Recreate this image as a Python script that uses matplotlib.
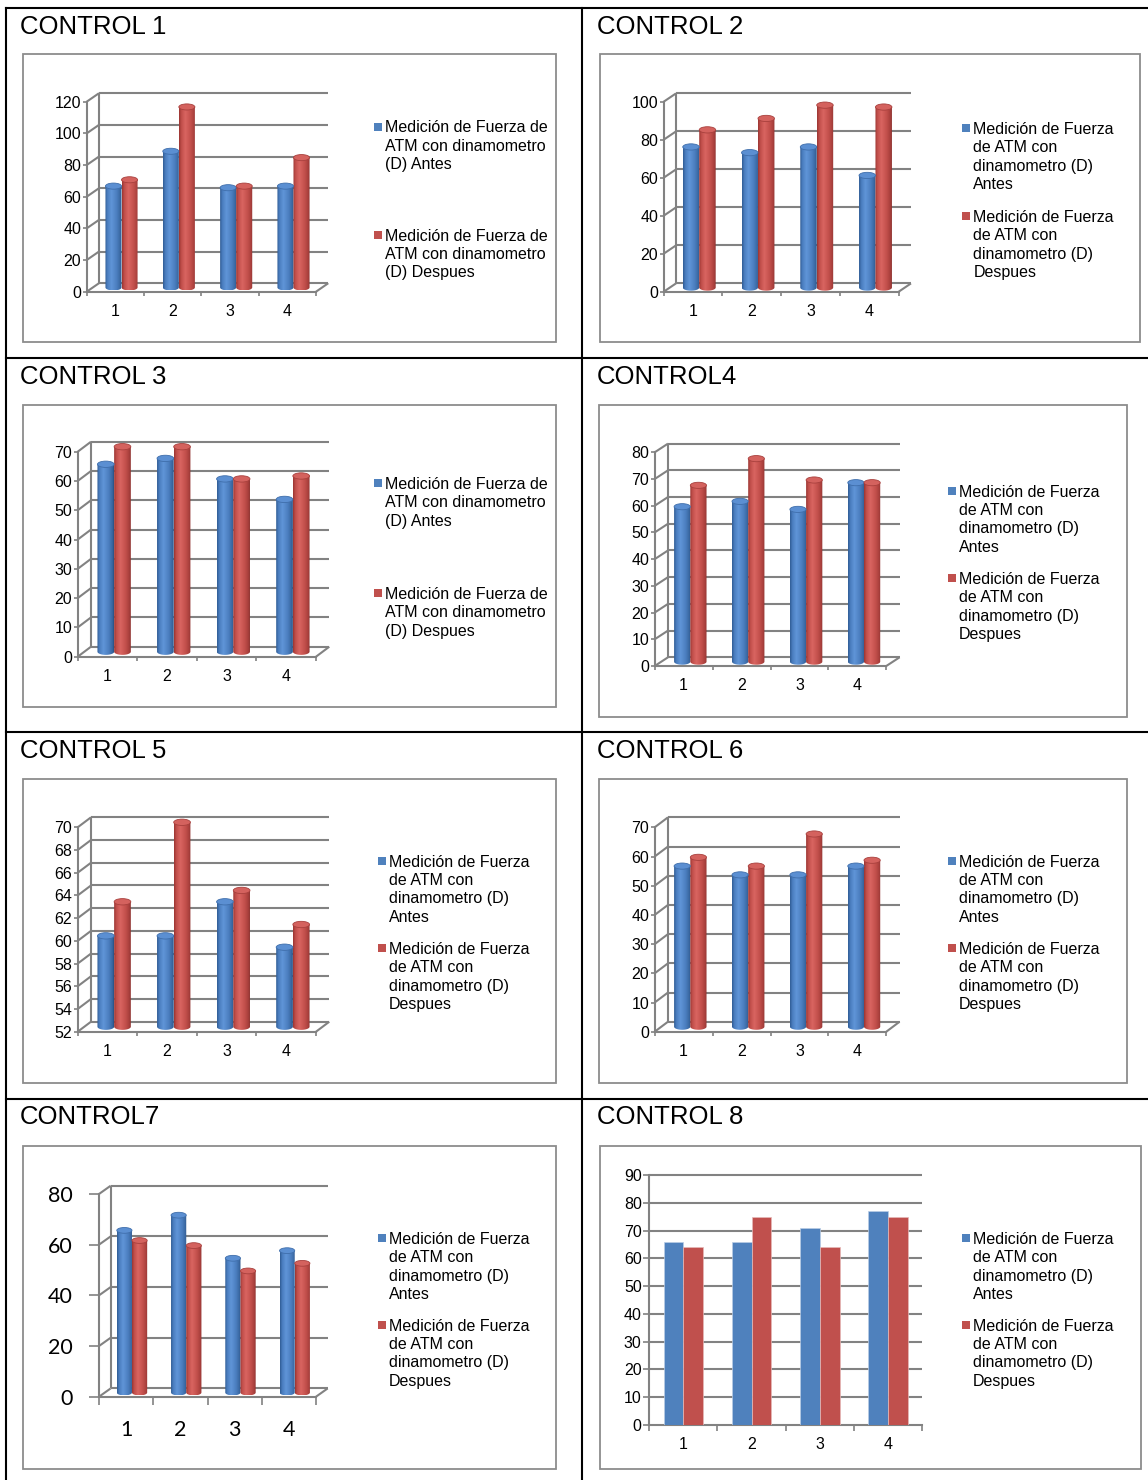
import textwrap
import numpy as np
import matplotlib
matplotlib.use("Agg")
import matplotlib.pyplot as plt
from matplotlib.colors import to_rgb
from matplotlib.lines import Line2D
from matplotlib.patches import Rectangle, Ellipse, PathPatch
from matplotlib.path import Path

# ---------------------------------------------------------------- data
categories = ["1", "2", "3", "4"]
serie_antes = "Medición de Fuerza de ATM con dinamometro (D) Antes"
serie_despues = "Medición de Fuerza de ATM con dinamometro (D) Despues"

c1_antes = [64, 86, 63, 64]
c1_despues = [68, 114, 64, 82]
c2_antes = [74, 71, 74, 59]
c2_despues = [83, 89, 96, 95]
c3_antes = [64, 66, 59, 52]
c3_despues = [70, 70, 59, 60]
c4_antes = [58, 60, 57, 67]
c4_despues = [66, 76, 68, 67]
c5_antes = [60, 60, 63, 59]
c5_despues = [63, 70, 64, 61]
c6_antes = [55, 52, 52, 55]
c6_despues = [58, 55, 66, 57]
c7_antes = [64, 70, 53, 56]
c7_despues = [60, 58, 48, 51]
c8_antes = [66, 66, 71, 77]
c8_despues = [64, 75, 64, 75]

c1_ticks = [0, 20, 40, 60, 80, 100, 120]
c2_ticks = [0, 20, 40, 60, 80, 100]
c3_ticks = [0, 10, 20, 30, 40, 50, 60, 70]
c4_ticks = [0, 10, 20, 30, 40, 50, 60, 70, 80]
c5_ticks = [52, 54, 56, 58, 60, 62, 64, 66, 68, 70]
c6_ticks = [0, 10, 20, 30, 40, 50, 60, 70]
c7_ticks = [0, 20, 40, 60, 80]
c8_ticks = [0, 10, 20, 30, 40, 50, 60, 70, 80, 90]

# ---------------------------------------------------------------- styling
W, H, DPI = 1148, 1480, 100
plt.rcParams["font.family"] = ["Liberation Sans", "DejaVu Sans"]

GRID = "#828282"
GRID_LW = 1.5
BLUE = "#4F81BD"
RED = "#C0504D"
BLUE_STOPS = [(0.0, "#2f5c94"), (0.14, "#4a7dbf"), (0.38, "#6095d8"),
              (0.70, "#4b7ebf"), (0.92, "#38669f"), (1.0, "#2a4f80")]
RED_STOPS = [(0.0, "#9a3532"), (0.14, "#c14f4b"), (0.38, "#d96561"),
             (0.70, "#c24f4b"), (0.92, "#a53e3b"), (1.0, "#8a2e2b")]
BLUE_TOP = ("#5b8fd2", "#3f6eab")
RED_TOP = ("#d4625e", "#a8403d")

fig = plt.figure(figsize=(W / DPI, H / DPI), dpi=DPI)
fig.patch.set_facecolor("white")


def fx(x):
    return x / W


def fy(y):
    return 1 - y / H


def fig_line(xs, ys, color="black", lw=1.5):
    fig.add_artist(Line2D([fx(v) for v in xs], [fy(v) for v in ys],
                          color=color, lw=lw, transform=fig.transFigure))


def gradient(stops, n=80):
    f = np.linspace(0, 1, n)
    pos = [s[0] for s in stops]
    cols = np.array([to_rgb(s[1]) for s in stops])
    rgb = np.stack([np.interp(f, pos, cols[:, k]) for k in range(3)], axis=-1)
    return rgb[np.newaxis, :, :]


def cylinder(ax, xc, w, base, top, eh, stops, top_colors):
    a, b = w / 2, eh / 2
    t = np.linspace(np.pi, 2 * np.pi, 40)
    arc = np.column_stack([xc + a * np.cos(t), base + b * np.sin(t)])
    verts = np.vstack([[xc - a, top], arc, [xc + a, top], [xc - a, top]])
    codes = [Path.MOVETO] + [Path.LINETO] * (len(verts) - 2) + [Path.CLOSEPOLY]
    shape = PathPatch(Path(verts, codes), transform=ax.transData)
    im = ax.imshow(gradient(stops), extent=(xc - a, xc + a, base - b, top),
                   aspect="auto", interpolation="bilinear", zorder=3)
    im.set_clip_path(shape)
    im.set_clip_box(fig.bbox)
    ax.add_patch(Ellipse((xc, top), w, eh, facecolor=top_colors[0],
                         edgecolor=top_colors[1], lw=0.6, zorder=4,
                         clip_on=False))


def legend(tx, y_blue, y_red, wrap, step=18.4, size=11.5):
    for yc, name, col in ((y_blue, serie_antes, BLUE), (y_red, serie_despues, RED)):
        fig.add_artist(Rectangle((fx(tx - 11), fy(yc + 4)), 8 / W, 8 / H,
                                 facecolor=col, edgecolor="none",
                                 transform=fig.transFigure))
        for i, line in enumerate(textwrap.wrap(name, wrap)):
            fig.text(fx(tx), fy(yc + i * step + 5.7), line, fontsize=size,
                     va="baseline", ha="left", color="black")


def chart_box(box):
    x0, y0, x1, y1 = box
    fig.add_artist(Rectangle((fx(x0), fy(y1)), (x1 - x0) / W, (y1 - y0) / H,
                             fill=False, edgecolor="#8c8c8c", lw=1.3,
                             transform=fig.transFigure))


def base_axes(front, ticks):
    x0, x1, y0, y1 = front
    ax = fig.add_axes([fx(x0), fy(y0), (x1 - x0) / W, (y0 - y1) / H])
    ax.set_xlim(0.5, 4.5)
    ax.set_ylim(ticks[0], ticks[-1])
    ax.set_autoscale_on(False)
    ax.patch.set_visible(False)
    for s in ("top", "right"):
        ax.spines[s].set_visible(False)
    for s in ("left", "bottom"):
        ax.spines[s].set_color(GRID)
        ax.spines[s].set_linewidth(GRID_LW)
    ax.set_yticks(ticks)
    ax.set_xticks([0.5, 1.5, 2.5, 3.5, 4.5])
    ax.set_xticklabels([])
    ax.set_xticks([1, 2, 3, 4], minor=True)
    ax.set_xticklabels(categories, minor=True)
    return ax


def panel3d(p):
    ticks = p["ticks"]
    x0, x1, y0, y1 = p["front"]
    ax = base_axes(p["front"], ticks)
    ymin, ymax = ticks[0], ticks[-1]
    px_x = (x1 - x0) / 4
    px_y = (y0 - y1) / (ymax - ymin)
    ox = p["back"][0] / px_x
    oy = p["back"][1] / px_y
    kw = dict(color=GRID, lw=GRID_LW, clip_on=False, zorder=1,
              solid_capstyle="butt")
    # back wall gridlines
    ax.hlines(np.array(ticks) + oy, 0.5 + ox, 4.5 + ox, colors=GRID,
              lw=GRID_LW, clip_on=False, zorder=1)
    # side wall
    for t in ticks:
        ax.plot([0.5, 0.5 + ox], [t, t + oy], **kw)
    ax.plot([0.5 + ox, 0.5 + ox], [ymin + oy, ymax + oy], **kw)
    # floor edge
    ax.plot([4.5, 4.5 + ox], [ymin, ymin + oy], **kw)

    ts = p["tick_style"]
    ax.tick_params(axis="y", length=ts["ylen"], width=1.2, color=GRID,
                   pad=ts["ypad"], labelsize=ts["size"])
    ax.tick_params(axis="x", which="major", length=ts["xlen"], width=1.2,
                   color=GRID)
    ax.tick_params(axis="x", which="minor", length=0, pad=ts["xpad"],
                   labelsize=ts["size"])
    if ts.get("family"):
        for lbl in ax.get_yticklabels() + ax.get_xticklabels(minor=True):
            lbl.set_fontfamily(ts["family"])

    w = 0.28
    eh = 0.38 * w * px_x / px_y
    base = ymin + oy / 2
    for i, (a, d) in enumerate(zip(p["antes"], p["despues"])):
        c = i + 1 + ox / 2
        cylinder(ax, c - w / 2, w, base, a + oy / 2, eh, BLUE_STOPS, BLUE_TOP)
        cylinder(ax, c + w / 2, w, base, d + oy / 2, eh, RED_STOPS, RED_TOP)


def panel2d(p):
    ticks = p["ticks"]
    ax = base_axes(p["front"], ticks)
    ax.hlines(ticks[1:], 0.5, 4.5, colors=GRID, lw=GRID_LW, clip_on=False,
              zorder=1)
    ax.tick_params(axis="y", which="major", length=4, width=1.2, color=GRID,
                   pad=1.5, labelsize=11.5)
    ax.tick_params(axis="x", which="major", length=4, width=1.2, color=GRID)
    ax.tick_params(axis="x", which="minor", length=0, pad=8.5,
                   labelsize=11.5)
    w = 0.29
    x = np.arange(1, 5)
    ax.bar(x - w / 2, p["antes"], w, color=BLUE, edgecolor="#b9cde5",
           lw=0.5, zorder=3)
    ax.bar(x + w / 2, p["despues"], w, color=RED, edgecolor="#e6b9b8",
           lw=0.5, zorder=3)


std = dict(ylen=2.9, ypad=1.0, xlen=2.9, xpad=8.8, size=11.5)
big = dict(ylen=7.2, ypad=11.5, xlen=5.8, xpad=16.5, size=15.5, family="Lato")

panels = [
    dict(title="CONTROL 1", base=33.5, tx=20, box=(23, 54, 556, 342),
         front=(86.7, 316, 291.7, 101.7), back=(12.3, 8.5), ticks=c1_ticks,
         antes=c1_antes, despues=c1_despues, leg=(385, 126.7, 235, 21),
         tick_style=std),
    dict(title="CONTROL 2", base=33.5, tx=597, box=(600, 54, 1140, 342),
         front=(663.7, 898.7, 291.7, 101.7), back=(12.3, 8.3), ticks=c2_ticks,
         antes=c2_antes, despues=c2_despues, leg=(973.3, 128.3, 216, 18),
         tick_style=std),
    dict(title="CONTROL 3", base=384.5, tx=20, box=(23, 405, 556, 707),
         front=(77.7, 316, 656.7, 451.7), back=(13.3, 10), ticks=c3_ticks,
         antes=c3_antes, despues=c3_despues, leg=(385, 483, 593, 21),
         tick_style=std),
    dict(title="CONTROL4", base=384.5, tx=597, box=(599, 405, 1127, 717),
         front=(654.7, 886.3, 666, 452.3), back=(13.3, 8.7), ticks=c4_ticks,
         antes=c4_antes, despues=c4_despues, leg=(959, 491, 578, 18),
         tick_style=std),
    dict(title="CONTROL 5", base=758.5, tx=20, box=(23, 779, 556, 1083),
         front=(77.7, 316, 1031.7, 827.3), back=(13.3, 10), ticks=c5_ticks,
         antes=c5_antes, despues=c5_despues, leg=(389, 861, 948, 18),
         tick_style=std),
    dict(title="CONTROL 6", base=758.5, tx=597, box=(599, 779, 1127, 1083),
         front=(654.7, 886.3, 1031.7, 827.3), back=(13.3, 10), ticks=c6_ticks,
         antes=c6_antes, despues=c6_despues, leg=(959, 861, 948, 18),
         tick_style=std),
    dict(title="CONTROL7", base=1124.5, tx=20, box=(23, 1146, 556, 1469),
         front=(99, 316, 1396.7, 1194), back=(11.7, 8.3), ticks=c7_ticks,
         antes=c7_antes, despues=c7_despues, leg=(389, 1238, 1325, 18),
         tick_style=big),
    dict(title="CONTROL 8", base=1124.5, tx=597, box=(600, 1146, 1141, 1469),
         front=(649.3, 922, 1425, 1175), back=None, ticks=c8_ticks,
         antes=c8_antes, despues=c8_despues, leg=(973, 1238, 1325, 18),
         tick_style=None),
]

# table grid
fig_line([6, W], [8, 8])
for yl in (358, 732, 1099):
    fig_line([6, W], [yl, yl])
fig_line([6, 6], [8, H])
fig_line([582, 582], [8, H])

for p in panels:
    fig.text(fx(p["tx"]), fy(p["base"]), p["title"], fontsize=18.5,
             va="baseline", ha="left", color="black")
    chart_box(p["box"])
    if p["back"] is None:
        panel2d(p)
    else:
        panel3d(p)
    legend(*p["leg"])

fig.savefig("out.png", dpi=DPI, facecolor="white")
